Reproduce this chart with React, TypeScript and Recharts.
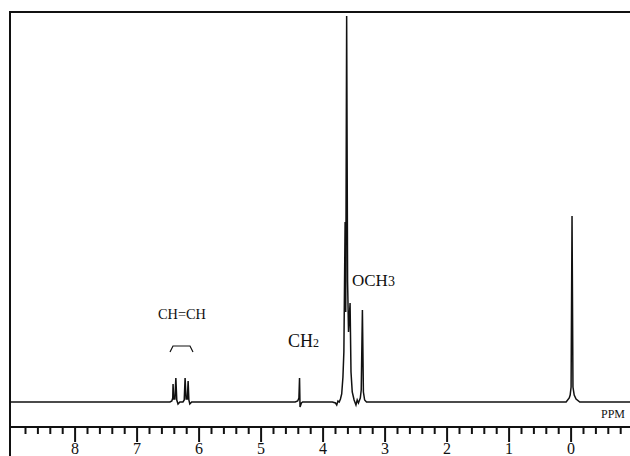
import { LineChart, Line, XAxis, YAxis, ReferenceLine } from "recharts";

// chemical shift (ppm) and signal height of the trace
const ppm = [
  9.05,
  6.47, 6.44, 6.425, 6.42, 6.41, 6.39, 6.375, 6.36, 6.34, 6.31,
  6.26, 6.24, 6.226, 6.21, 6.19, 6.177, 6.165, 6.15, 6.12,
  4.45, 4.41, 4.39, 4.38, 4.372, 4.35, 4.33,
  3.85, 3.8, 3.78, 3.76, 3.74, 3.72, 3.7, 3.68, 3.665, 3.645, 3.635, 3.62,
  3.605, 3.59, 3.565, 3.55, 3.53, 3.5, 3.47, 3.45, 3.43, 3.4, 3.385, 3.366,
  3.35, 3.33, 3.3,
  0.08, 0.03, 0.015, 0.0, -0.015, -0.03, -0.05, -0.08, -0.14,
  -0.95,
];
const intensity = [
  0,
  0, 1, 4, 18, 3, 3, 24, 2, -2, 0,
  0, 2, 24, 3, 3, 21, 2, -2, 0,
  0, 1, 4, 24, -5, -1, 0,
  0, -1, -3, 1, 0, 3, 8, 25, 50, 180, 90, 386,
  120, 70, 99, 30, 10, 2, -3, 2, -1, 4, 12, 92,
  10, 2, 0,
  0, 4, 7, 15, 186, 15, 7, 3, 0,
  0,
];

const majorTicks = [8, 7, 6, 5, 4, 3, 2, 1, 0];
const tickValues: number[] = [];
for (let i = -4; i <= 44; i++) tickValues.push(Math.round(i * 20) / 100);

const spectrum = ppm.map((p, i) => ({ ppm: p, h: intensity[i] }));

const serif = "'Liberation Serif', 'DejaVu Serif', serif";

function PpmTick(props: any) {
  const { x, y, payload } = props;
  const v = payload.value;
  const major = majorTicks.some((m) => Math.abs(m - v) < 1e-6);
  return (
    <g>
      <line x1={x} x2={x} y1={y} y2={y + (major ? 15 : 7)} stroke="#111" strokeWidth={2} />
      {major && (
        <text x={x} y={y + 27} textAnchor="middle" fontFamily={serif} fontSize={16} fill="#111">
          {v}
        </text>
      )}
    </g>
  );
}

export default function App() {
  return (
    <div style={{ position: "absolute", left: 0, top: 0, width: 630, height: 456, background: "#fff" }}>
      <LineChart
        width={630}
        height={456}
        data={spectrum}
        margin={{ top: 12, right: 0, left: 10, bottom: 0 }}
      >
        <XAxis
          dataKey="ppm"
          type="number"
          domain={[-0.95, 9.05]}
          allowDataOverflow
          reversed
          ticks={tickValues}
          interval={0}
          tickSize={0}
          tickMargin={0}
          height={29}
          tick={<PpmTick />}
          tickLine={false}
          axisLine={{ stroke: "#111", strokeWidth: 2 }}
        />
        <YAxis hide type="number" domain={[-25, 390]} allowDataOverflow />
        <ReferenceLine y={390} stroke="#111" strokeWidth={2} />
        <Line
          type="linear"
          dataKey="h"
          stroke="#111"
          strokeWidth={1.5}
          dot={false}
          isAnimationActive={false}
        />
        <line x1={10} x2={10} y1={11} y2={456} stroke="#111" strokeWidth={2} />
        <text x={158} y={319} fontFamily={serif} fontSize={15} textLength={48} lengthAdjust="spacingAndGlyphs" fill="#111">
          CH=CH
        </text>
        <polyline points="170,352 173,346 190,346 193,352" fill="none" stroke="#111" strokeWidth={1.2} />
        <text x={288} y={347} fontFamily={serif} fontSize={18} fill="#111">
          CH<tspan fontSize={12}>2</tspan>
        </text>
        <text x={352} y={286} fontFamily={serif} fontSize={17} fill="#111">
          OCH<tspan fontSize={14}>3</tspan>
        </text>
        <text x={601} y={418} fontFamily={serif} fontSize={13} textLength={24} lengthAdjust="spacingAndGlyphs" fill="#111">
          PPM
        </text>
      </LineChart>
    </div>
  );
}
